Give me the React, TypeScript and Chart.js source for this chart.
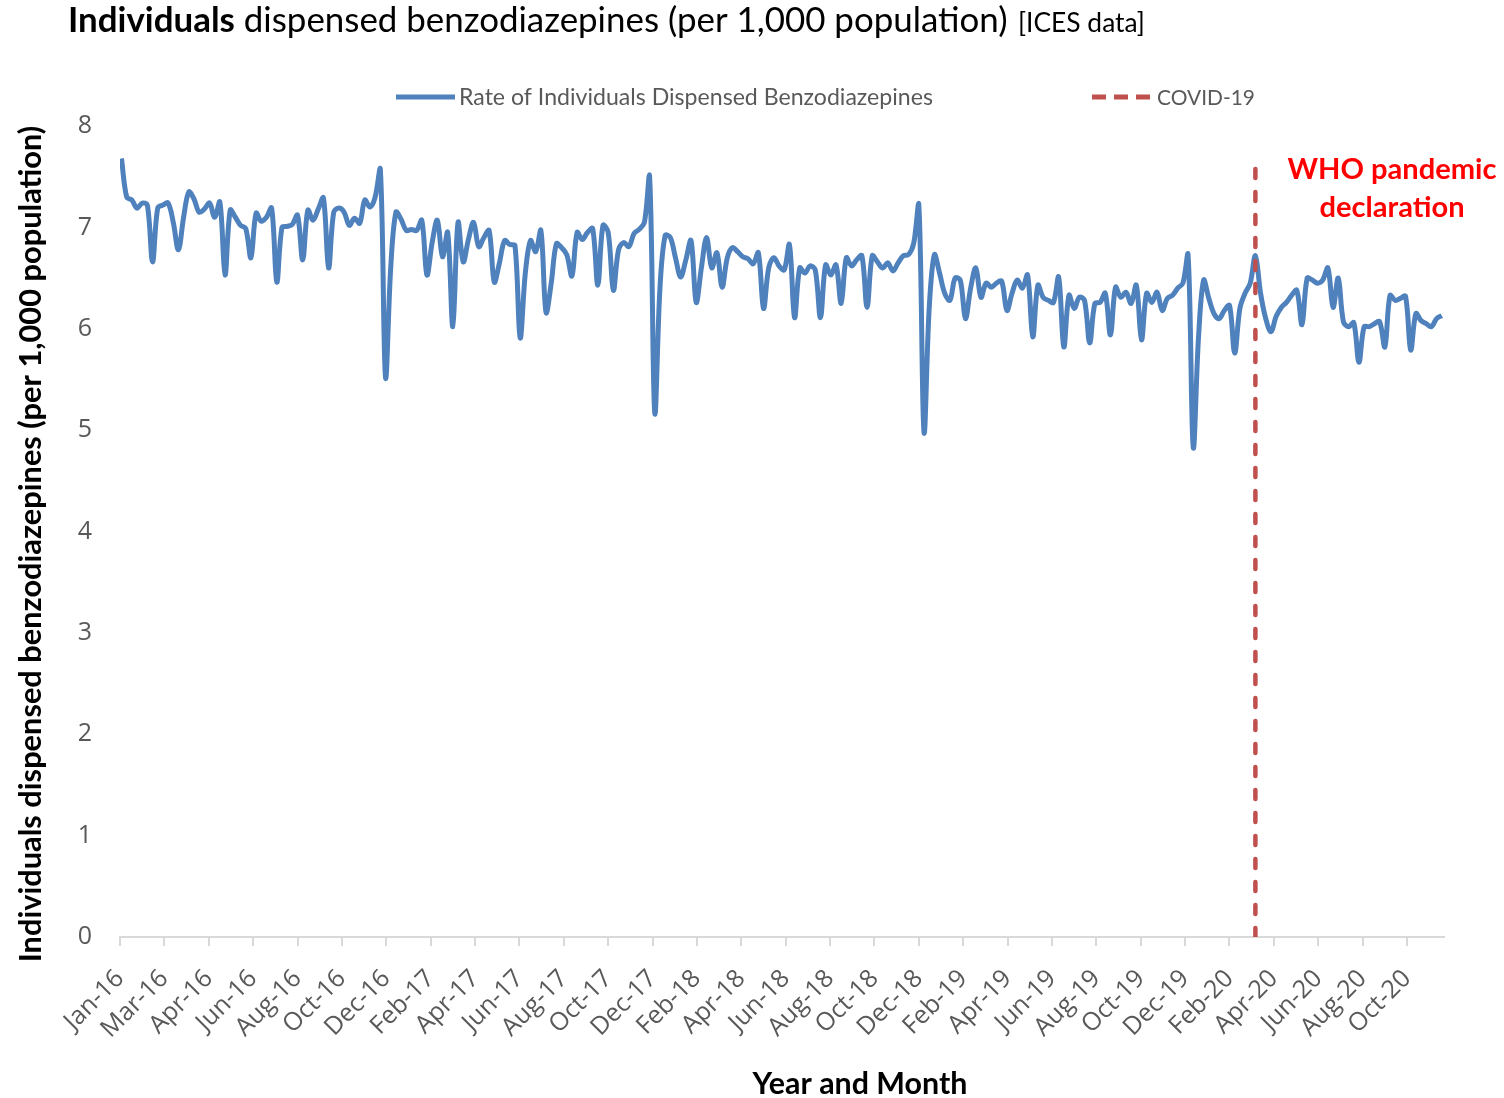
import React, { useEffect, useRef } from 'react';
import { Chart, registerables } from 'chart.js';

Chart.register(...registerables);

// Axis origin (day 0) and first weekly observation
const AXIS_ORIGIN = Date.UTC(2016, 0, 1);
const FIRST_WEEK = Date.UTC(2016, 0, 3);
const DAY_MS = 86400000;

// Weekly rates of individuals dispensed benzodiazepines (per 1,000 population)
const weeks2016 = [
  7.68, 7.30, 7.27, 7.19, 7.24, 7.22, 6.66, 7.19, 7.22, 7.24,
  7.05, 6.78, 7.10, 7.35, 7.28, 7.15, 7.18, 7.24, 7.10, 7.25,
  6.53, 7.17, 7.10, 7.02, 6.99, 6.70, 7.14, 7.06, 7.10, 7.19,
  6.46, 7.00, 7.01, 7.03, 7.12, 6.68, 7.17, 7.07, 7.18, 7.29,
  6.60, 7.15, 7.19, 7.15, 7.02, 7.09, 7.04, 7.27, 7.20, 7.30,
  7.57, 5.52,
];
const weeks2017 = [
  6.60, 7.15, 7.08, 6.97, 6.98, 6.97, 7.07, 6.53, 6.85, 7.07,
  6.71, 6.95, 6.02, 7.05, 6.66, 6.88, 7.05, 6.81, 6.90, 6.97,
  6.46, 6.65, 6.87, 6.83, 6.82, 5.91, 6.55, 6.87, 6.76, 6.97,
  6.16, 6.45, 6.84, 6.80, 6.73, 6.52, 6.95, 6.88, 6.95, 6.99,
  6.43, 7.02, 6.95, 6.38, 6.78, 6.85, 6.81, 6.94, 6.98, 7.05,
  7.50, 5.17,
];
const weeks2018 = [
  6.40, 6.92, 6.90, 6.70, 6.51, 6.68, 6.87, 6.26, 6.60, 6.90,
  6.60, 6.75, 6.41, 6.70, 6.80, 6.76, 6.71, 6.69, 6.64, 6.75,
  6.20, 6.60, 6.70, 6.62, 6.58, 6.83, 6.11, 6.60, 6.55, 6.62,
  6.58, 6.11, 6.63, 6.53, 6.63, 6.25, 6.70, 6.62, 6.68, 6.72,
  6.21, 6.72, 6.66, 6.60, 6.65, 6.57, 6.65, 6.72, 6.73, 6.84,
  7.22, 4.98,
];
const weeks2019 = [
  6.20, 6.73, 6.55, 6.35, 6.28, 6.50, 6.48, 6.10, 6.40, 6.60,
  6.31, 6.45, 6.41, 6.45, 6.47, 6.18, 6.35, 6.48, 6.40, 6.53,
  5.92, 6.43, 6.31, 6.28, 6.26, 6.51, 5.82, 6.33, 6.20, 6.31,
  6.28, 5.86, 6.25, 6.26, 6.35, 5.94, 6.41, 6.31, 6.36, 6.25,
  6.43, 5.89, 6.35, 6.26, 6.36, 6.18, 6.30, 6.33, 6.40, 6.45,
  6.73, 4.83,
];
const weeks2020 = [
  5.90, 6.48, 6.30, 6.15, 6.10, 6.18, 6.23, 5.76, 6.20, 6.35,
  6.45, 6.72, 6.35, 6.10, 5.97, 6.12, 6.21, 6.26, 6.33, 6.38,
  6.04, 6.50, 6.48, 6.45, 6.48, 6.60, 6.21, 6.50, 6.07, 6.02,
  6.06, 5.67, 6.02, 6.02, 6.05, 6.07, 5.82, 6.33, 6.28, 6.30,
  6.32, 5.79, 6.15, 6.08, 6.05, 6.02, 6.10, 6.13,
];

const tickLabels = [
  'Jan-16', 'Mar-16', 'Apr-16', 'Jun-16', 'Aug-16', 'Oct-16', 'Dec-16',
  'Feb-17', 'Apr-17', 'Jun-17', 'Aug-17', 'Oct-17', 'Dec-17',
  'Feb-18', 'Apr-18', 'Jun-18', 'Aug-18', 'Oct-18', 'Dec-18',
  'Feb-19', 'Apr-19', 'Jun-19', 'Aug-19', 'Oct-19', 'Dec-19',
  'Feb-20', 'Apr-20', 'Jun-20', 'Aug-20', 'Oct-20',
];
const TICK_STEP_DAYS = 60;
const X_MAX_DAYS = 1790;

const COVID_DATE = Date.UTC(2020, 2, 15);
const COVID_LINE_TOP = 7.6;

const SERIES_LABEL = 'Rate of Individuals Dispensed Benzodiazepines';
const COVID_LABEL = 'COVID-19';

const BLUE = '#4F81BD';
const RED = '#C0504D';
const GREY = '#595959';
const FONT = 'Lato, "Open Sans", sans-serif';
const TICK_FONT = '"Open Sans", sans-serif';

function fitSize(ctx: CanvasRenderingContext2D, text: string, weight: string, family: string, width: number) {
  ctx.font = `${weight} 100px ${family}`;
  return (100 * width) / ctx.measureText(text).width;
}

const textPlugin = {
  id: 'texts',
  afterDraw(chart: any) {
    const ctx: CanvasRenderingContext2D = chart.ctx;
    ctx.save();
    ctx.textBaseline = 'alphabetic';
    ctx.textAlign = 'left';

    // Title
    const t1 = 'Individuals';
    const t2 = ' dispensed benzodiazepines (per 1,000 population)';
    ctx.font = `bold 100px ${FONT}`;
    const w1 = ctx.measureText(t1).width;
    ctx.font = `normal 100px ${FONT}`;
    const w2 = ctx.measureText(t2).width;
    const s = (100 * 940) / (w1 + w2);
    ctx.fillStyle = '#000';
    ctx.font = `bold ${s}px ${FONT}`;
    ctx.fillText(t1, 68, 32);
    const wb = ctx.measureText(t1).width;
    ctx.font = `normal ${s}px ${FONT}`;
    ctx.fillText(t2, 68 + wb, 32);
    const t3 = '[ICES data]';
    const s3 = fitSize(ctx, t3, 'normal', FONT, 127);
    ctx.font = `normal ${s3}px ${FONT}`;
    ctx.fillText(t3, 1018, 32);

    // Legend
    ctx.textBaseline = 'middle';
    ctx.lineWidth = 5;
    ctx.strokeStyle = BLUE;
    ctx.beginPath();
    ctx.moveTo(396, 97);
    ctx.lineTo(455, 97);
    ctx.stroke();
    const sl = fitSize(ctx, SERIES_LABEL, 'normal', FONT, 474);
    ctx.font = `normal ${sl}px ${FONT}`;
    ctx.fillStyle = GREY;
    ctx.fillText(SERIES_LABEL, 459, 98);

    ctx.strokeStyle = RED;
    ctx.setLineDash([14, 8]);
    ctx.beginPath();
    ctx.moveTo(1092, 97);
    ctx.lineTo(1153, 97);
    ctx.stroke();
    ctx.setLineDash([]);
    const sc = fitSize(ctx, COVID_LABEL, 'normal', FONT, 98);
    ctx.font = `normal ${sc}px ${FONT}`;
    ctx.fillText(COVID_LABEL, 1157, 98);

    // Annotation
    ctx.fillStyle = '#FF0000';
    ctx.textAlign = 'center';
    const a1 = 'WHO pandemic';
    const a2 = 'declaration';
    const sa = fitSize(ctx, a1, 'bold', FONT, 209);
    ctx.font = `bold ${sa}px ${FONT}`;
    ctx.fillText(a1, 1392, 170);
    ctx.fillText(a2, 1392, 208);

    // X axis title
    ctx.fillStyle = '#000';
    const xt = 'Year and Month';
    const sx = fitSize(ctx, xt, 'bold', FONT, 215);
    ctx.font = `bold ${sx}px ${FONT}`;
    ctx.fillText(xt, 860, 1084);

    // Y axis title
    const yt = 'Individuals dispensed benzodiazepines (per 1,000 population)';
    const sy = fitSize(ctx, yt, 'bold', FONT, 837);
    ctx.translate(31, 544);
    ctx.rotate(-Math.PI / 2);
    ctx.font = `bold ${sy}px ${FONT}`;
    ctx.fillText(yt, 0, 0);
    ctx.restore();
  },
};

export default function App() {
  const ref = useRef<HTMLCanvasElement | null>(null);

  useEffect(() => {
    document.body.style.margin = '0';
    const values = [...weeks2016, ...weeks2017, ...weeks2018, ...weeks2019, ...weeks2020];
    const points = values.map((v, i) => ({
      x: (FIRST_WEEK + i * 7 * DAY_MS - AXIS_ORIGIN) / DAY_MS,
      y: v,
    }));
    const covidX = (COVID_DATE - AXIS_ORIGIN) / DAY_MS;

    const chart = new Chart(ref.current as HTMLCanvasElement, {
      type: 'line',
      data: {
        datasets: [
          {
            label: COVID_LABEL,
            data: [
              { x: covidX, y: 0 },
              { x: covidX, y: COVID_LINE_TOP },
            ],
            borderColor: RED,
            borderWidth: 4.5,
            borderDash: [9, 14],
            borderCapStyle: 'round',
            pointRadius: 0,
            tension: 0,
            order: 0,
          },
          {
            label: SERIES_LABEL,
            data: points,
            borderColor: BLUE,
            borderWidth: 5,
            pointRadius: 0,
            tension: 0.35,
            borderJoinStyle: 'round',
            order: 1,
          },
        ],
      },
      options: {
        animation: false,
        responsive: false,
        devicePixelRatio: 1,
        layout: { padding: { left: 0, right: 60, top: 126, bottom: 0 } },
        plugins: {
          legend: { display: false },
          tooltip: { enabled: false },
          title: { display: false },
        },
        scales: {
          x: {
            type: 'linear',
            min: 0,
            max: X_MAX_DAYS,
            afterBuildTicks: (scale: any) => {
              scale.ticks = tickLabels.map((_, i) => ({ value: i * TICK_STEP_DAYS }));
            },
            afterFit: (scale: any) => {
              scale.height = 161;
            },
            ticks: {
              autoSkip: false,
              maxRotation: 45,
              minRotation: 45,
              color: GREY,
              padding: 18,
              font: { family: TICK_FONT, size: 25 },
              callback: (value: any) => tickLabels[Math.round(Number(value) / TICK_STEP_DAYS)] ?? '',
            },
            grid: {
              display: true,
              drawOnChartArea: false,
              drawTicks: true,
              tickLength: 9,
              color: '#D9D9D9',
              lineWidth: 2,
            },
            border: { display: true, color: '#D9D9D9', width: 2 },
          },
          y: {
            min: 0,
            max: 8,
            afterFit: (scale: any) => {
              scale.width = 120;
            },
            ticks: {
              stepSize: 1,
              color: GREY,
              padding: 28,
              font: { family: TICK_FONT, size: 25 },
            },
            grid: { display: false, drawTicks: false },
            border: { display: false },
          },
        },
      },
      plugins: [textPlugin],
    });
    return () => chart.destroy();
  }, []);

  return (
    <div style={{ position: 'fixed', left: 0, top: 0, width: 1504, height: 1098, background: '#fff' }}>
      <canvas ref={ref} width={1504} height={1098} style={{ width: 1504, height: 1098 }} />
    </div>
  );
}
